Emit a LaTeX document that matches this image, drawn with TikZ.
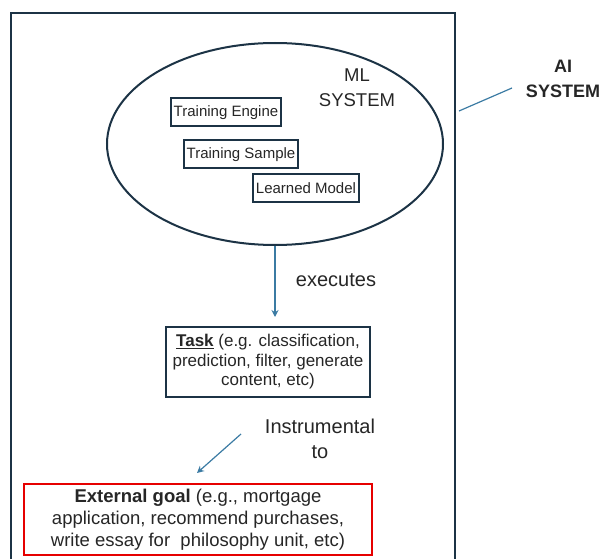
\documentclass[tikz,border=0pt]{standalone}
\usepackage{fontspec}
\setmainfont{Liberation Sans}
\usetikzlibrary{arrows.meta, positioning, shapes.geometric}
\definecolor{cframe}{HTML}{1C3345}
\definecolor{clink}{HTML}{3B7BA3}
\definecolor{cred}{HTML}{E60000}
\definecolor{ctext}{HTML}{262626}
\tikzset{
  every picture/.style={line width=1.8pt},
  part/.style={draw=cframe, line width=2pt, inner xsep=2.5pt, minimum height=28pt, font=\fontsize{15}{17}\selectfont, text=ctext},
  taskbox/.style={draw=cframe, line width=2pt, align=center, minimum width=204pt, minimum height=70pt, font=\fontsize{17}{19.5}\selectfont, text=ctext},
  goalbox/.style={draw=cred, line width=2pt, align=center, minimum width=348pt, minimum height=71pt, font=\fontsize{18.5}{22}\selectfont, text=ctext},
  link/.style={-{Stealth[length=7pt, width=7pt]}, draw=clink, line width=1.2pt},
  tag/.style={font=\fontsize{20}{25}\selectfont, align=center, text=ctext},
}
\begin{document}
\begin{tikzpicture}[x=1pt, y=-1pt]
  \useasboundingbox (0,0) rectangle (603,559);
  % AI system frame, runs off the bottom
  \begin{scope}
    \clip (0,0) rectangle (603,559);
    \draw[cframe, line width=2pt] (11,13) rectangle (455,600);
  \end{scope}
  \node[draw=cframe, ellipse, line width=2pt, minimum width=336pt, minimum height=202pt] (ml) at (275,144) {};
  \node[tag, font=\fontsize{18.5}{25}\selectfont] (mltitle) at (357,88) {ML\\SYSTEM};
  \node[part] (engine) at (226,112.5) {Training Engine};
  \node[part] (sample) at (241,154.5) {Training Sample};
  \node[part] (model) at (306,188.5) {Learned Model};
  % task and goal
  \node[taskbox] (task) at (268,362) {\underline{\textbf{Task}} (e.g. classification,\\prediction, filter, generate\\content, etc)};
  \node[goalbox] (goal) at (198,519.5) {\textbf{External goal} (e.g., mortgage\\application, recommend purchases,\\write essay for\ \ philosophy unit, etc)};
  \draw[link, shorten >=9pt] (ml.south) -- (ml.south |- task.north);
  \node[tag] (exec) at (336,280) {executes};
  \node[tag] (instr) at (320,439) {Instrumental\\to};
  \coordinate (instrtail) at (241,434);
  \coordinate (instrhead) at (197,473);
  \draw[link] (instrtail) -- (instrhead);
  % AI system label
  \node[tag, font=\fontsize{18}{25}\selectfont\bfseries] (ai) at (563,79) {AI\\SYSTEM};
  \coordinate (aitail) at (512,88);
  \coordinate (aihead) at (459,111);
  \draw[clink, line width=1.2pt] (aitail) -- (aihead);
\end{tikzpicture}
\end{document}
